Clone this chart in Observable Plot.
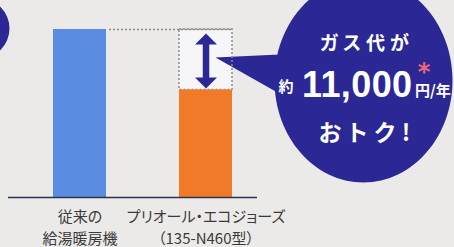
<!DOCTYPE html>
<html><head><meta charset="utf-8">
<script src="https://cdn.jsdelivr.net/npm/d3@7"></script>
<script src="https://cdn.jsdelivr.net/npm/@observablehq/plot@0.6"></script>
<style>
html,body{margin:0;padding:0;background:#ebeae8;}
#chart svg{display:block;background:linear-gradient(#f6f6f5 0 9px,#ebeae8 9px);}
svg text{font-feature-settings:"palt";}
</style></head><body><div id="chart"></div>
<script>
// data
const categories = ["従来の給湯暖房機", "プリオール・エコジョーズ"];
const tickLabels = ["従来の\n給湯暖房機", "プリオール・エコジョーズ\n（135-N460型）"];
const values = [100, 64];           // relative gas cost (conventional = 100)
const barColors = ["#5a8de2", "#f07a28"];
const calloutTitle = "ガス代が";
const calloutPrefix = "約";
const calloutAmount = "11,000";
const calloutMark = "*";
const calloutUnit = "円/年";
const calloutTail = "おトク!";

const navy = "#2b2896";
const bars = categories.map((c, i) => ({cat: c, value: values[i], color: barColors[i]}));
const gap = [{cat: categories[1], from: values[1], to: values[0], left: categories[0]}];

// shapes (relative to the anchor point)
const upHead = {draw(ctx) { ctx.moveTo(0, 0); ctx.lineTo(11, 11); ctx.lineTo(-11, 11); ctx.closePath(); }};
const downHead = {draw(ctx) { ctx.moveTo(0, 0); ctx.lineTo(11, -11); ctx.lineTo(-11, -11); ctx.closePath(); }};
const bubbleShape = {draw(ctx) {
  const cx = 157.5, cy = 51, rx = 89, ry = 102, k = 0.5523;
  ctx.moveTo(cx + rx, cy);
  ctx.bezierCurveTo(cx + rx, cy + k * ry, cx + k * rx, cy + ry, cx, cy + ry);
  ctx.bezierCurveTo(cx - k * rx, cy + ry, cx - rx, cy + k * ry, cx - rx, cy);
  ctx.bezierCurveTo(cx - rx, cy - k * ry, cx - k * rx, cy - ry, cx, cy - ry);
  ctx.bezierCurveTo(cx + k * rx, cy - ry, cx + rx, cy - k * ry, cx + rx, cy);
  ctx.closePath();
  ctx.moveTo(9.5, 28); ctx.lineTo(94.5, 24); ctx.lineTo(94.5, 76); ctx.closePath();
}};
const cornerShape = {draw(ctx) { ctx.arc(-100.5, -1, 30, 0, 2 * Math.PI); }};

const jp = "'Noto Sans CJK JP', 'Noto Sans', sans-serif";

const plot = Plot.plot({
  width: 454,
  height: 247,
  marginTop: 0,
  marginBottom: 50,
  marginLeft: 8,
  marginRight: 197,
  style: {fontFamily: jp, background: "transparent", overflow: "hidden"},
  x: {type: "band", domain: categories, range: [-22, 306], padding: 0.583},
  y: {domain: [0, 100], range: [197, 29], axis: null},
  marks: [
    Plot.barY(gap, {x: "cat", y1: "from", y2: "to", fill: "#f6f6f8"}),
    Plot.ruleY(gap, {y: "to", x1: "left", x2: "cat", insetLeft: 56, stroke: "#8a8a8a", strokeWidth: 1.5, strokeDasharray: "2 2"}),
    Plot.dot(bars.slice(0, 1), {x: "cat", y: "value", symbol: cornerShape, r: 30, fill: navy, stroke: "none"}),
    Plot.dot(gap, {x: "cat", y: "to", symbol: bubbleShape, r: 10, fill: navy, stroke: "none"}),
    Plot.barY(gap, {x: "cat", y1: "from", y2: "to", fill: "none", stroke: "#8a8a8a", strokeWidth: 1.5, strokeDasharray: "2 2"}),
    Plot.barY(bars, {x: "cat", y: "value", fill: "color"}),
    Plot.ruleY([0], {stroke: "#2c3350", strokeWidth: 1.5}),
    Plot.ruleX(gap, {x: "cat", y1: "to", y2: "from", stroke: navy, strokeWidth: 6.5, insetTop: 13, insetBottom: 11}),
    Plot.dot(gap, {x: "cat", y: "to", symbol: upHead, r: 10, fill: navy, stroke: "none", dy: 4}),
    Plot.dot(gap, {x: "cat", y: "from", symbol: downHead, r: 10, fill: navy, stroke: "none", dy: -1.5}),
    Plot.text(gap, {x: "cat", y: "to", text: () => calloutTitle, dx: 161, dy: 14, fill: "white", fontSize: 19, fontWeight: "bold", textAnchor: "middle", lineAnchor: "middle"}),
    Plot.text(gap, {x: "cat", y: "to", text: () => calloutPrefix, dx: 80, dy: 58, fill: "white", fontSize: 15, fontWeight: "bold", textAnchor: "middle", lineAnchor: "middle"}),
    Plot.text(gap, {x: "cat", y: "to", text: () => calloutAmount, dx: 96, dy: 56, fill: "white", fontSize: 36, fontWeight: "bold", fontFamily: "'Liberation Sans', Arial, sans-serif", textAnchor: "start", lineAnchor: "middle"}),
    Plot.text(gap, {x: "cat", y: "to", text: () => calloutMark, dx: 218, dy: 43, fill: "#f0657a", fontSize: 24, fontWeight: "bold", fontFamily: "'DejaVu Sans', sans-serif", textAnchor: "middle", lineAnchor: "middle"}),
    Plot.text(gap, {x: "cat", y: "to", text: () => calloutUnit, dx: 209, dy: 62, fill: "white", fontSize: 15, fontWeight: "bold", textAnchor: "start", lineAnchor: "middle"}),
    Plot.text(gap, {x: "cat", y: "to", text: () => calloutTail, dx: 162, dy: 104, fill: "white", fontSize: 23, fontWeight: "bold", textAnchor: "middle", lineAnchor: "middle"}),
    Plot.axisX({tickSize: 0, tickPadding: 9, fontSize: 15, lineHeight: 1.45, fill: "#3a3a3a", label: null,
      tickFormat: d => tickLabels[categories.indexOf(d)]})
  ]
});
// letter spacing (style only)
const spacing = new Map([[calloutTitle, 5], [calloutTail, 7], [calloutAmount, 0.4]]);
d3.select(plot).selectAll("text").each(function() {
  const s = spacing.get(this.textContent);
  if (s != null) this.setAttribute("letter-spacing", s);
});
document.getElementById("chart").appendChild(plot);
</script></body></html>
